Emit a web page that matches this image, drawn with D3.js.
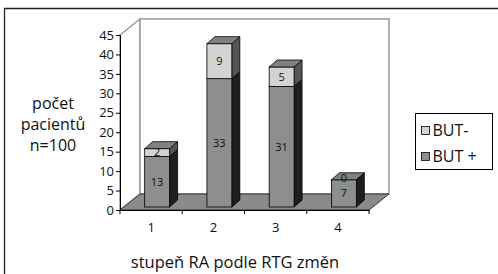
<!DOCTYPE html>
<html>
<head>
<meta charset="utf-8">
<script src="https://cdn.jsdelivr.net/npm/d3@7"></script>
<style>
  body { margin: 0; background: #fff; }
  text { font-family: "Open Sans", sans-serif; fill: #111; }
</style>
</head>
<body>
<div id="chart"></div>
<script>
const width = 498;
const height = 274;

// data
const categories = ["1", "2", "3", "4"];
const butPlus = [13, 33, 31, 7];
const butMinus = [2, 9, 5, 0];
const yTicks = [0, 5, 10, 15, 20, 25, 30, 35, 40, 45];
const seriesNames = ["BUT-", "BUT +"];

// plot geometry
const x0 = 120, x1 = 369, yBase = 210, yTop = 35;
const depthX = 20, depthY = -16;   // back wall offset
const barDX = 8, barDY = -7;       // bar depth
const barShiftX = 6, barShiftY = -3;

const xScale = d3.scaleBand()
  .domain(categories)
  .range([x0, x1]);

const yScale = d3.scaleLinear()
  .domain([0, 45])
  .range([yBase, yTop]);

const colorFront = { plus: "#8e8e8e", minus: "#d3d3d3" };
const colorSide = { plus: "#1e1e1e", minus: "#555" };

const svg = d3.select("#chart")
  .append("svg")
  .attr("width", width)
  .attr("height", height);

// outer frame (only top and left visible)
svg.append("path")
  .attr("d", `M4.5,${height} L4.5,8.5 L${width},8.5`)
  .attr("fill", "none")
  .attr("stroke", "#222")
  .attr("stroke-width", 1.3);

// side wall + back wall
const pts = a => a.map(p => p.join(",")).join(" ");
svg.append("polygon")
  .attr("points", pts([[x0, yTop], [x0 + depthX, yTop + depthY], [x0 + depthX, yBase + depthY], [x0, yBase]]))
  .attr("fill", "#fff")
  .attr("stroke", "#999")
  .attr("stroke-width", 1.5);
svg.append("polygon")
  .attr("points", pts([[x0 + depthX, yTop + depthY], [x1 + depthX, yTop + depthY], [x1 + depthX, yBase + depthY], [x0 + depthX, yBase + depthY]]))
  .attr("fill", "#fff")
  .attr("stroke", "#999")
  .attr("stroke-width", 1.5);

// floor
svg.append("polygon")
  .attr("points", pts([[x0, yBase], [x1, yBase], [x1 + depthX, yBase + depthY], [x0 + depthX, yBase + depthY]]))
  .attr("fill", "#8a8a8a")
  .attr("stroke", "#333")
  .attr("stroke-width", 1);

// y axis
const yAxis = d3.axisLeft(yScale)
  .tickValues(yTicks)
  .tickSize(4)
  .tickPadding(2);
const gy = svg.append("g")
  .attr("transform", `translate(${x0},0)`)
  .call(yAxis);
gy.select(".domain").attr("stroke", "#000");
gy.selectAll(".tick line").attr("stroke", "#000");
gy.selectAll("text")
  .style("font-family", "'Open Sans', sans-serif")
  .style("font-size", "13px")
  .attr("fill", "#111");

// x axis
const xAxis = d3.axisBottom(xScale)
  .tickSize(0)
  .tickPadding(13);
const gx = svg.append("g")
  .attr("transform", `translate(0,${yBase})`)
  .call(xAxis);
gx.select(".domain").attr("stroke", "#000");
gx.selectAll("text")
  .style("font-family", "'Open Sans', sans-serif")
  .style("font-size", "13px")
  .attr("fill", "#111");
// boundary ticks
gx.selectAll(".bound")
  .data(d3.range(categories.length + 1))
  .join("line")
  .attr("x1", i => x0 + i * xScale.step())
  .attr("x2", i => x0 + i * xScale.step())
  .attr("y1", 0)
  .attr("y2", 4)
  .attr("stroke", "#000");

// bars
const barW = xScale.bandwidth() * 0.4;
const bars = categories.map((c, i) => ({
  cat: c,
  segs: [
    { key: "plus", from: 0, to: butPlus[i], v: butPlus[i] },
    { key: "minus", from: butPlus[i], to: butPlus[i] + butMinus[i], v: butMinus[i] }
  ]
}));

const yS = v => yScale(v) + barShiftY;

const g = svg.append("g");
bars.forEach(b => {
  const bx = xScale(b.cat) + xScale.bandwidth() / 2 - barW / 2 + barShiftX;
  const bg = g.append("g");
  b.segs.forEach(s => {
    const yt = yS(s.to), yb = yS(s.from);
    // side
    bg.append("polygon")
      .attr("points", pts([[bx + barW, yt], [bx + barW + barDX, yt + barDY], [bx + barW + barDX, yb + barDY], [bx + barW, yb]]))
      .attr("fill", colorSide[s.key])
      .attr("stroke", "#000")
      .attr("stroke-width", 0.8);
    // front
    bg.append("rect")
      .attr("x", bx)
      .attr("y", yt)
      .attr("width", barW)
      .attr("height", yb - yt)
      .attr("fill", colorFront[s.key])
      .attr("stroke", "#000")
      .attr("stroke-width", 0.8);
  });
  const total = b.segs[1].to;
  const yt = yS(total);
  bg.append("polygon")
    .attr("points", pts([[bx, yt], [bx + barDX, yt + barDY], [bx + barW + barDX, yt + barDY], [bx + barW, yt]]))
    .attr("fill", "#808080")
    .attr("stroke", "#000")
    .attr("stroke-width", 0.8);
  b.segs.forEach(s => {
    // zero-height segment label sits a bit above the bar top
    const lift = s.v === 0 ? -2 : 0;
    bg.append("text")
      .attr("x", bx + barW / 2)
      .attr("y", (yS(s.from) + yS(s.to)) / 2 + lift)
      .attr("dy", "0.35em")
      .attr("text-anchor", "middle")
      .style("font-size", "11px")
      .text(s.v);
  });
});

// y title
const yTitle = ["počet", "pacientů", "n=100"];
svg.selectAll(".ytitle")
  .data(yTitle)
  .join("text")
  .attr("x", 53)
  .attr("y", (d, i) => 103 + i * 21)
  .attr("dy", "0.35em")
  .attr("text-anchor", "middle")
  .style("font-size", "16px")
  .text(d => d);

// x title
svg.append("text")
  .attr("x", 235)
  .attr("y", 262)
  .attr("dy", "0.35em")
  .attr("text-anchor", "middle")
  .style("font-size", "16.5px")
  .text("stupeň RA podle RTG změn");

// legend
const leg = svg.append("g").attr("transform", "translate(415.5,113.5)");
leg.append("rect")
  .attr("width", 77)
  .attr("height", 56)
  .attr("fill", "#fff")
  .attr("stroke", "#000")
  .attr("stroke-width", 1);
const legColors = [colorFront.minus, colorFront.plus];
seriesNames.forEach((n, i) => {
  const ly = 17 + i * 26;
  leg.append("rect")
    .attr("x", 6)
    .attr("y", ly - 4)
    .attr("width", 8)
    .attr("height", 8)
    .attr("fill", legColors[i])
    .attr("stroke", "#000")
    .attr("stroke-width", 0.8);
  leg.append("text")
    .attr("x", 17)
    .attr("y", ly)
    .attr("dy", "0.35em")
    .style("font-size", "16px")
    .text(n);
});
</script>
</body>
</html>
